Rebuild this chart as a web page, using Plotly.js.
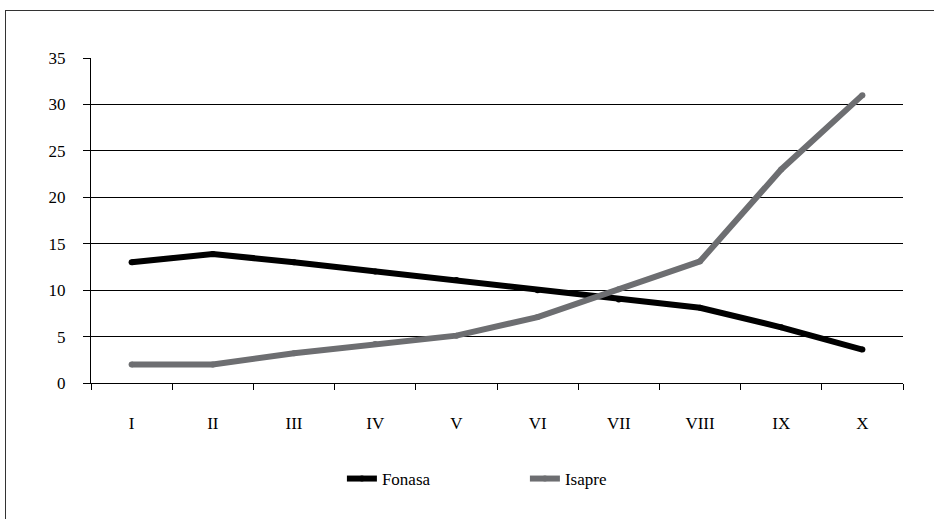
<!DOCTYPE html>
<html><head><meta charset="utf-8">
<script src="https://cdn.plot.ly/plotly-3.0.1.min.js"></script>
<style>
html,body{margin:0;padding:0;background:#fff;overflow:hidden}
#frame{position:absolute;left:5px;top:10px;width:960px;height:560px;border:1px solid #333;box-sizing:border-box;pointer-events:none;z-index:5}
#chart{position:absolute;left:0;top:0;width:934px;height:519px}
</style>
</head><body>
<div id="chart"></div>
<div id="frame"></div>
<script>
const categories = ["I","II","III","IV","V","VI","VII","VIII","IX","X"];
const fonasa = [13.0, 13.9, 13.0, 12.0, 11.1, 10.0, 9.0, 8.1, 6.0, 3.6];
const isapre = [2.0, 2.0, 3.2, 4.2, 5.1, 7.1, 10.1, 13.1, 23.0, 31.0];
const yTicks = [0,5,10,15,20,25,30,35];

const fontFam = "'Liberation Serif', 'Times New Roman', serif";
const traces = [
  {x: categories, y: fonasa, name: "Fonasa", type: "scatter", mode: "lines+markers",
   line: {color: "#000000", width: 6}, marker: {color: "#000000", size: 6}},
  {x: categories, y: isapre, name: "Isapre", type: "scatter", mode: "lines+markers",
   line: {color: "#6d6e71", width: 6}, marker: {color: "#6d6e71", size: 6}}
];
const layout = {
  width: 934, height: 519,
  margin: {l: 91, r: 31, t: 58, b: 136},
  paper_bgcolor: "#fff", plot_bgcolor: "#fff",
  font: {family: fontFam, size: 17, color: "#000"},
  showlegend: true,
  legend: {orientation: "h", x: 0.309, xanchor: "left", y: -0.24, yanchor: "top",
           font: {family: fontFam, size: 17, color: "#000"}, entrywidth: 138, entrywidthmode: "pixels"},
  xaxis: {type: "category", tickson: "boundaries", ticks: "outside", ticklen: 6,
          tickcolor: "#000", tickwidth: 1, showline: true, linecolor: "#000", linewidth: 1,
          showgrid: false, zeroline: false, range: [-0.5, 9.5], fixedrange: true,
          tickfont: {family: fontFam, size: 17, color: "#000"}, ticklabelstandoff: 25},
  yaxis: {range: [0, 35], tickvals: yTicks, ticktext: yTicks.map(String), ticks: "outside",
          ticklen: 7, tickcolor: "#000", showline: true, linecolor: "#000", linewidth: 1,
          showgrid: true, gridcolor: "#000", gridwidth: 1, zeroline: false,
          tickfont: {family: fontFam, size: 17, color: "#000"}, ticklabelstandoff: 14}
};
Plotly.newPlot("chart", traces, layout, {displayModeBar: false, staticPlot: true});
</script>
</body></html>
